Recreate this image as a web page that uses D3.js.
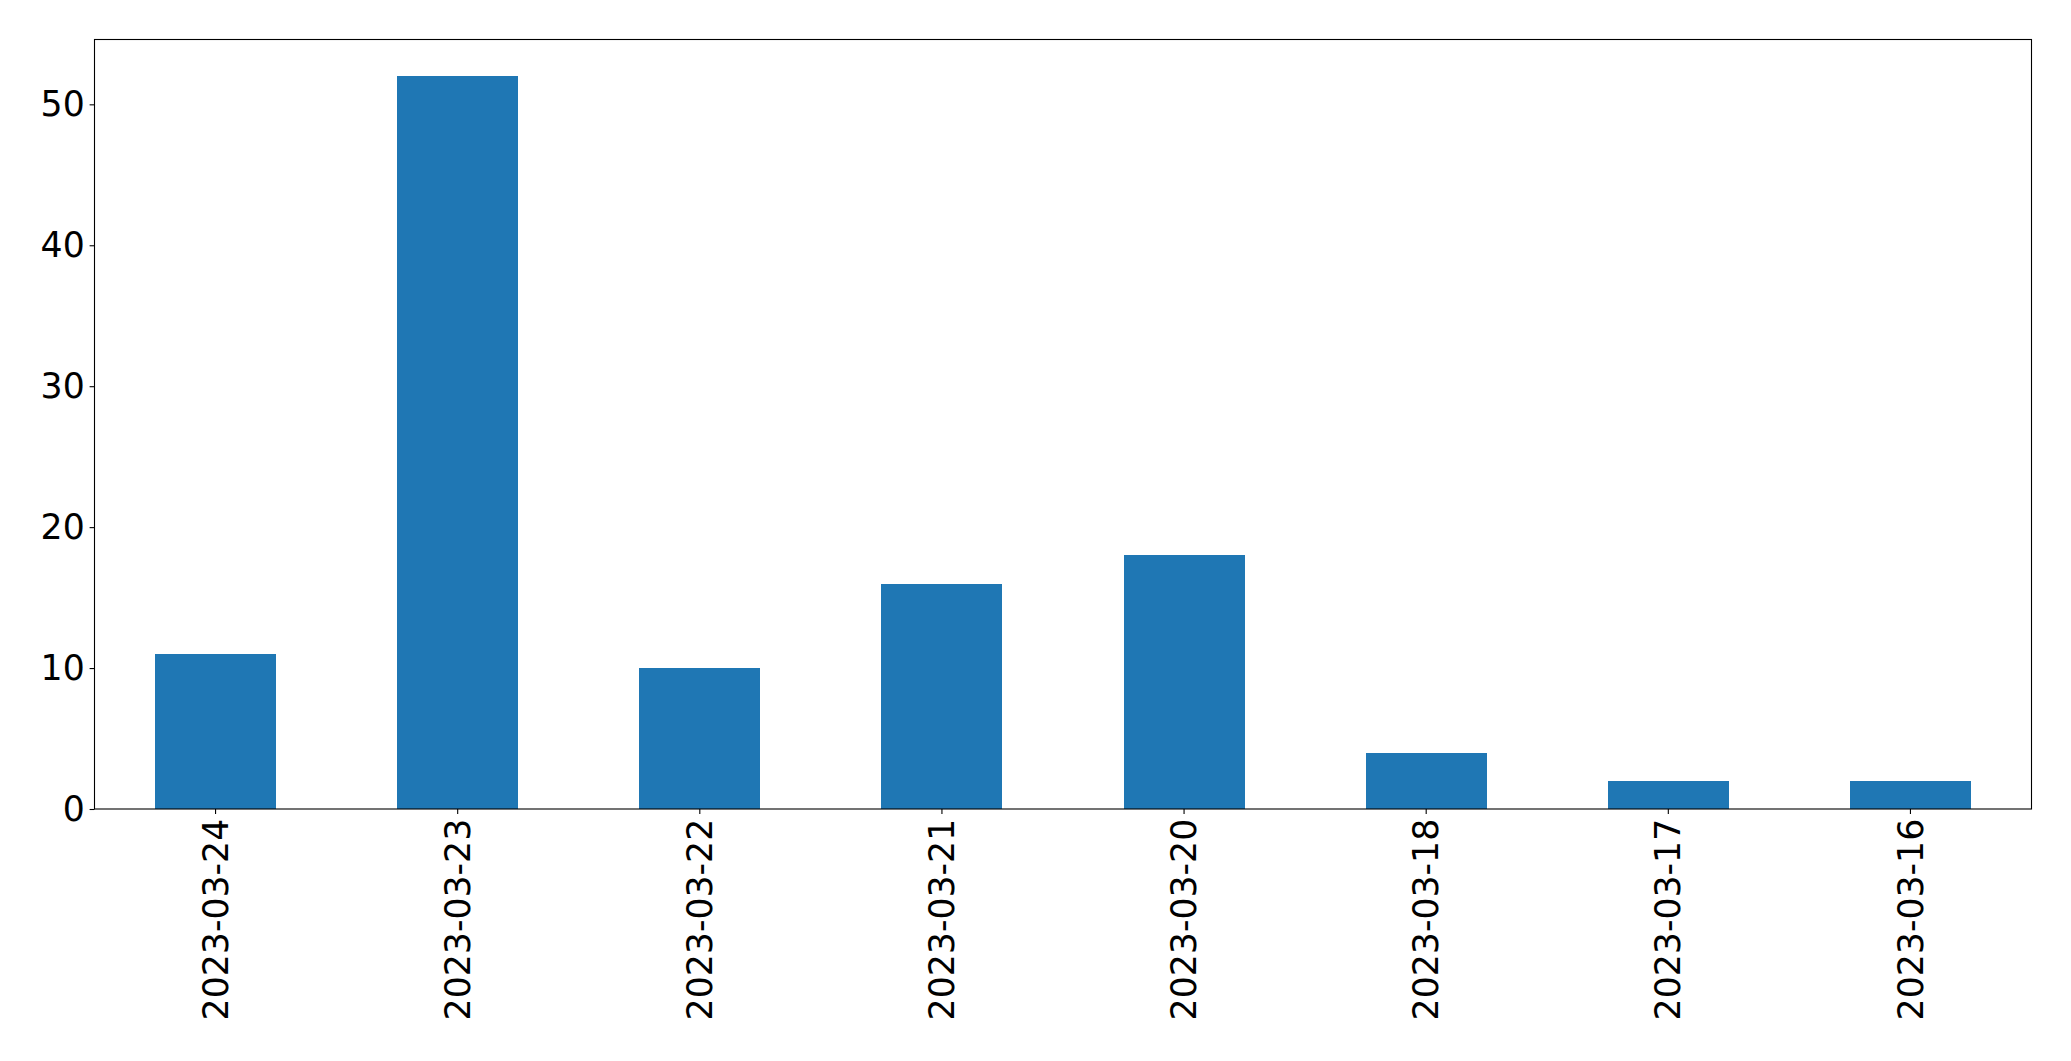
<!DOCTYPE html>
<html><head><meta charset="utf-8">
<script src="https://cdn.jsdelivr.net/npm/d3@7"></script>
<style>html,body{margin:0;padding:0;background:#fff;}svg{display:block;}</style>
</head><body>
<script>
const categories = ["2023-03-24","2023-03-23","2023-03-22","2023-03-21","2023-03-20","2023-03-18","2023-03-17","2023-03-16"];
const values = [11, 52, 10, 16, 18, 4, 2, 2];
const yTicks = [0, 10, 20, 30, 40, 50];

const W = 2071, H = 1061;
const m = {left: 94.5, top: 39.5, right: 2071 - 2031.5, bottom: 1061 - 809};
const svg = d3.select("body").append("svg").attr("width", W).attr("height", H);

const x = d3.scaleBand().domain(categories).range([m.left, W - m.right]).paddingInner(0.5).paddingOuter(0.25);
const y = d3.scaleLinear().domain([0, d3.max(values) * 1.05]).range([H - m.bottom, m.top]);

svg.append("g").selectAll("rect").data(values).join("rect")
  .attr("x", (d, i) => x(categories[i]))
  .attr("y", d => y(d))
  .attr("width", x.bandwidth())
  .attr("height", d => y(0) - y(d))
  .attr("fill", "#1f77b4")
  .attr("shape-rendering", "crispEdges");

const font = "DejaVu Sans, sans-serif";
const fs = 34.7;
const yAxis = svg.append("g").attr("transform", `translate(${m.left},0)`)
  .call(d3.axisLeft(y).tickValues(yTicks).tickSize(4.9).tickPadding(4.9).tickFormat(d3.format("d")));
yAxis.select(".domain").remove();
yAxis.selectAll("line").attr("stroke", "#000").attr("stroke-width", 1.1);
yAxis.selectAll("text").attr("font-family", font).attr("font-size", fs).attr("fill", "#000");

const xAxis = svg.append("g").attr("transform", `translate(0,${H - m.bottom})`)
  .call(d3.axisBottom(x).tickSize(4.9).tickPadding(4.9));
xAxis.select(".domain").remove();
xAxis.selectAll("line").attr("stroke", "#000").attr("stroke-width", 1.1);
xAxis.selectAll("text").attr("font-family", font).attr("font-size", fs).attr("fill", "#000")
  .attr("transform", "rotate(-90)")
  .attr("text-anchor", "end")
  .attr("dy", "0.35em")
  .attr("x", -(9.8))
  .attr("y", 0);

svg.append("rect").attr("x", m.left).attr("y", m.top)
  .attr("width", W - m.right - m.left).attr("height", H - m.bottom - m.top)
  .attr("fill", "none").attr("stroke", "#000").attr("stroke-width", 1.1);
</script>
</body></html>
